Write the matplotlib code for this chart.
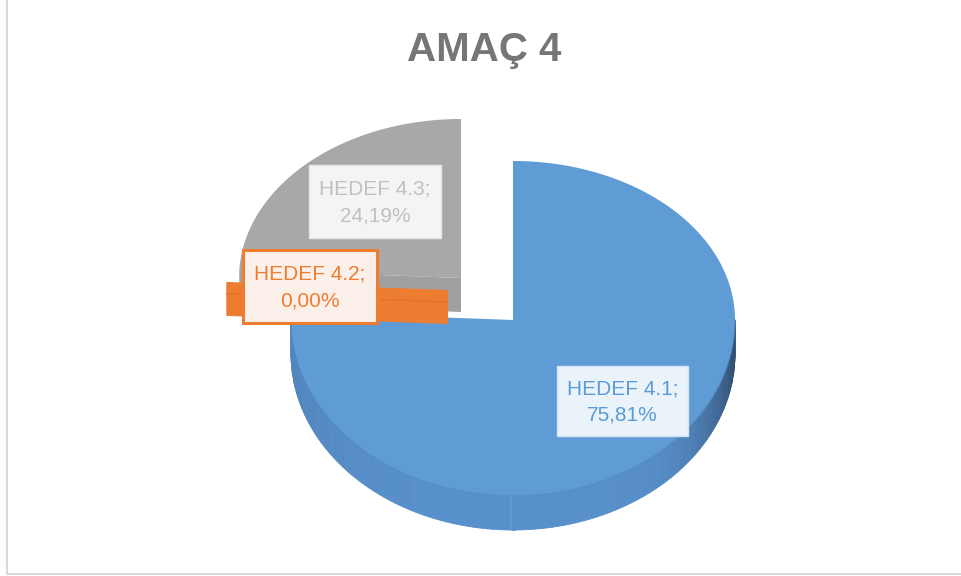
import numpy as np
import matplotlib.pyplot as plt
from matplotlib.colors import to_rgb
from matplotlib.patches import Polygon, Rectangle

labels = ['HEDEF 4.1', 'HEDEF 4.2', 'HEDEF 4.3']
values = [75.81, 0.00, 24.19]
title = 'AMAÇ 4'

top_colors = ['#5f9bd5', '#ed7d31', '#a8a8a8']
side_colors = ['#5890cc', '#e07020', '#a0a0a0']
text_colors = ['#5b9bd5', '#ed7d31', '#c0c0c0']

# layout in pixels
cx, cy = 513, 320
rx, ry_back, ry_front = 222, 159, 176
depth = 34
offsets = [(0, 0), (-65, -30), (-52, -42)]
label_boxes = [(557, 366, 131, 70), (243, 250, 134, 73), (309, 165, 132, 73)]

fig = plt.figure(figsize=(9.61, 5.76), dpi=100)
ax = fig.add_axes([0, 0, 1, 1])
ax.set_xlim(0, 961)
ax.set_ylim(576, 0)
ax.axis('off')


def rim(theta, off):
    t = np.radians(theta)
    c = np.cos(t)
    ry = np.where(c > 0, ry_back, ry_front)
    return cx + off[0] + rx * np.sin(t), cy + off[1] - ry * c


# angles clockwise from 12 o'clock
ends = np.cumsum(values) / sum(values) * 360
starts = np.concatenate([[0], ends[:-1]])


def wall(a, off, col):
    c0 = (cx + off[0], cy + off[1])
    x1, y1 = rim(a, off)
    quad = [c0, (x1, y1), (x1, y1 + depth), (c0[0], c0[1] + depth)]
    ax.add_patch(Polygon(quad, closed=True, fc=col, ec='none'))
    return c0, x1, y1


def draw_slice(i):
    a0, a1 = starts[i], ends[i]
    off = offsets[i]
    c0 = (cx + off[0], cy + off[1])
    # front rim wall
    lo, hi = max(a0, 90), min(a1, 270)
    if hi > lo:
        th = np.linspace(lo, hi, 150)
        xs, ys = rim(th, off)
        base = np.array(to_rgb(side_colors[i]))
        for k in range(len(th) - 1):
            s = np.sin(np.radians((th[k] + th[k + 1]) / 2))
            col = base * (1 - 0.45 * max(s, 0) ** 6 - 0.08 * max(-s, 0) ** 4)
            quad = [(xs[k], ys[k]), (xs[k + 1], ys[k + 1]),
                    (xs[k + 1], ys[k + 1] + depth), (xs[k], ys[k] + depth)]
            ax.add_patch(Polygon(quad, closed=True, fc=col, ec=col, lw=0.6))
    if a1 - a0 <= 0.01:
        c0, x1, y1 = wall(a1, off, top_colors[i])
        ax.plot([c0[0], x1], [c0[1] + 12, y1 + 12], color='#d8692a', lw=1.0, alpha=0.5)
        return
    # radial walls that face the viewer
    if 180 < a0 < 360:
        wall(a0, off, side_colors[i])
    if 0 < a1 < 180:
        wall(a1, off, side_colors[i])
    th = np.linspace(a0, a1, 200)
    xs, ys = rim(th, off)
    pts = [c0] + list(zip(xs, ys))
    ax.add_patch(Polygon(pts, closed=True, fc=top_colors[i], ec='none'))
    # faint edge where top meets the rim wall
    if hi > lo:
        th = np.linspace(lo, hi, 150)
        xs, ys = rim(th, off)
        ax.plot(xs, ys, color='#5088c2', lw=1.0, alpha=0.6)


for i in [2, 0, 1]:
    draw_slice(i)

for i, (x, y, w, h) in enumerate(label_boxes):
    if i == 1:
        box = Rectangle((x, y), w, h, fc='#fbf0e9', ec='#ed7d31', lw=2.2)
    elif i == 2:
        box = Rectangle((x, y), w, h, fc='#f4f4f4', ec='#e6e6e6', lw=1.0)
    else:
        box = Rectangle((x, y), w, h, fc='#eaf2fa', ec='#d6e5f4', lw=1.0)
    box.set_zorder(5)
    ax.add_patch(box)
    txt = '{};\n{}%'.format(labels[i], '{:.2f}'.format(values[i]).replace('.', ','))
    ax.text(x + w / 2, y + h / 2 + 1, txt, ha='center', va='center',
            fontsize=15, family='Liberation Sans', color=text_colors[i],
            linespacing=1.5, zorder=6)

ax.text(484, 50, title, ha='center', va='center', fontsize=29,
        fontweight='bold', family='Liberation Sans', color='#767676')

# chart border
ax.plot([6.5, 6.5], [0, 573.5], color='#d9d9d9', lw=1.5)
ax.plot([6.5, 961], [573.5, 573.5], color='#d9d9d9', lw=1.5)

fig.savefig('out.png', dpi=100)
